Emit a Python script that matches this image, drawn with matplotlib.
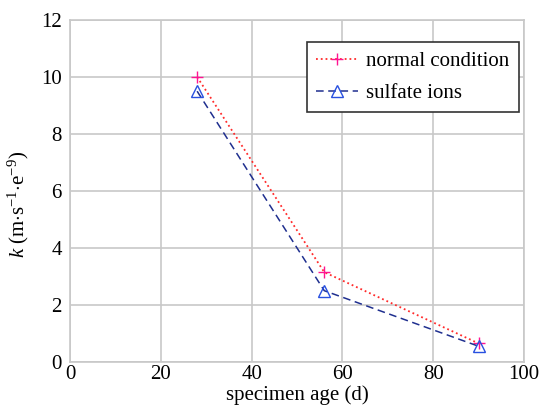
import matplotlib
matplotlib.use("Agg")
import matplotlib.pyplot as plt

plt.rcParams.update({
    "font.family": "Liberation Serif",
    "mathtext.fontset": "custom",
    "mathtext.rm": "Liberation Serif",
    "mathtext.it": "Liberation Serif:italic",
})

age = [28, 56, 90]
k_normal = [10.0, 3.15, 0.65]
k_sulfate = [9.5, 2.5, 0.55]

fig = plt.figure(figsize=(5.49, 4.16), dpi=100)
ax = fig.add_axes([0.1275, 0.13, 0.827, 0.822])

ax.plot(age, k_normal, linestyle=":", color="#ff2a2a", linewidth=1.3,
        marker="+", markersize=8, markeredgecolor="#ff1493", markeredgewidth=1.0,
        label="normal condition")
ax.plot(age, k_sulfate, linestyle=(0, (5, 3)), color="#1f2f8f", linewidth=1.1,
        marker="^", markersize=8, markerfacecolor="none", markeredgecolor="#2850e0",
        markeredgewidth=1.0, label="sulfate ions")

ax.set_xlim(0, 100)
ax.set_ylim(0, 12)
ax.set_xticks([0, 20, 40, 60, 80, 100])
ax.set_yticks([0, 2, 4, 6, 8, 10, 12])
ax.grid(True, color="#c8c8c8", linewidth=1.2)
ax.set_axisbelow(True)
for s in ax.spines.values():
    s.set_color("#c8c8c8")
    s.set_linewidth(1.2)
ax.tick_params(length=0, labelsize=15)
ax.tick_params(axis="x", pad=2)
ax.tick_params(axis="y", pad=6)

ax.set_xlabel("specimen age (d)", fontsize=15, labelpad=1)
ax.set_ylabel(r"$k$ (m$\cdot$s$^{-1}$$\cdot$e$^{-9}$)", fontsize=15)
ax.yaxis.set_label_coords(-0.085, 0.46)

leg = ax.legend(loc="upper right", fontsize=15, frameon=True, fancybox=False,
                edgecolor="#333333", framealpha=1, handlelength=2.0,
                handletextpad=0.4, borderpad=0.45, labelspacing=0.6,
                bbox_to_anchor=(519 / 549, 1 - 42 / 416),
                bbox_transform=fig.transFigure, borderaxespad=0)
leg.get_frame().set_linewidth(1.2)

fig.savefig("out.png", dpi=100)
